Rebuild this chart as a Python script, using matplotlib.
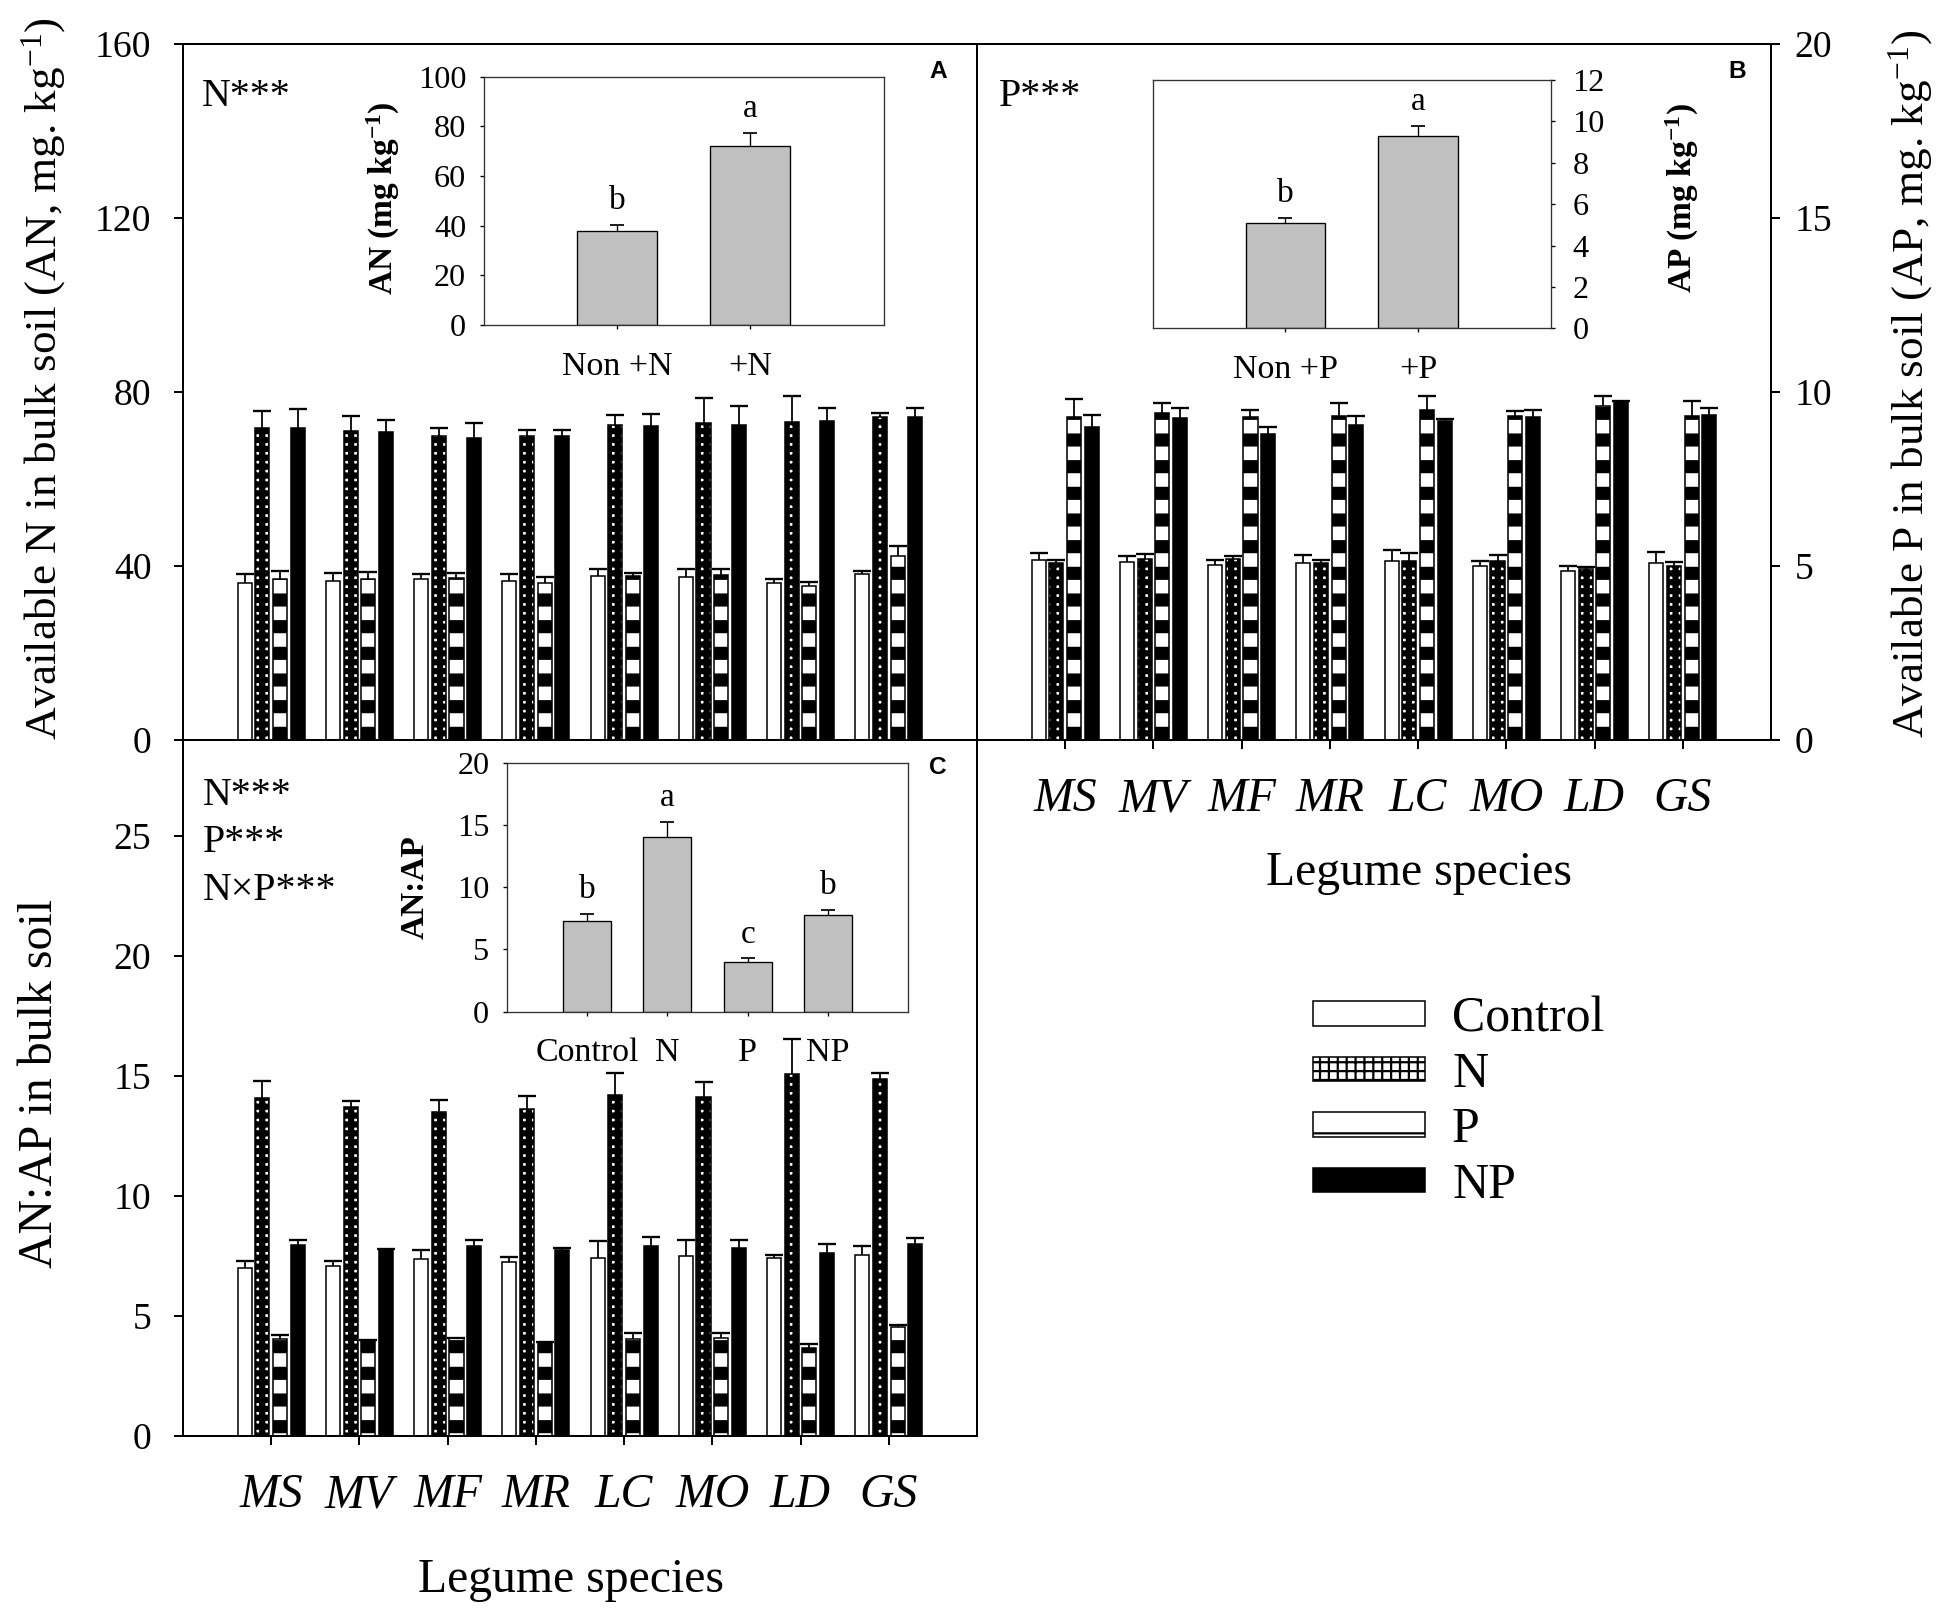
"""Legume species: available N, available P and AN:AP in bulk soil (panels A-C)"""
import matplotlib
matplotlib.use('Agg')
import matplotlib.pyplot as plt
import numpy as np

DPI = 160
W, H = 1940, 1610

plt.rcParams['font.family'] = ['Liberation Serif', 'DejaVu Serif']
plt.rcParams['mathtext.fontset'] = 'custom'
plt.rcParams['mathtext.rm'] = 'Liberation Serif'
plt.rcParams['mathtext.it'] = 'Liberation Serif:italic'
plt.rcParams['mathtext.bf'] = 'Liberation Serif:bold'

# ── data ────────────────────────────────────────────────────────────────────
species = ['MS', 'MV', 'MF', 'MR', 'LC', 'MO', 'LD', 'GS']
treatments = ['Control', 'N', 'P', 'NP']

# rows: Control, N, P, NP
an_mean = [[36.1, 36.5, 37.1, 36.6, 37.6, 37.4, 36.1, 38.1],
           [71.7, 71.1, 69.8, 69.8, 72.4, 72.8, 73.2, 74.2],
           [37.1, 36.9, 37.3, 36.1, 37.7, 37.9, 35.4, 42.4],
           [71.7, 70.9, 69.4, 69.8, 72.2, 72.4, 73.4, 74.3]]
an_se = [[2.1, 2.0, 1.1, 1.6, 1.6, 1.8, 1.0, 0.8],
         [4.0, 3.4, 1.9, 1.5, 2.4, 5.9, 5.8, 1.0],
         [1.8, 1.8, 1.2, 1.4, 0.8, 1.3, 0.9, 2.1],
         [4.3, 2.6, 3.5, 1.5, 2.8, 4.4, 3.0, 2.1]]

ap_mean = [[5.16, 5.11, 5.04, 5.08, 5.15, 4.99, 4.87, 5.09],
           [5.10, 5.19, 5.19, 5.10, 5.13, 5.13, 4.90, 5.00],
           [9.28, 9.41, 9.29, 9.32, 9.47, 9.32, 9.60, 9.30],
           [8.99, 9.26, 8.78, 9.06, 9.17, 9.28, 9.73, 9.33]]
ap_se = [[0.20, 0.17, 0.12, 0.25, 0.30, 0.16, 0.13, 0.31],
         [0.07, 0.15, 0.09, 0.06, 0.24, 0.19, 0.07, 0.12],
         [0.53, 0.28, 0.20, 0.37, 0.41, 0.13, 0.28, 0.43],
         [0.35, 0.29, 0.20, 0.25, 0.04, 0.21, 0.02, 0.22]]

ratio_mean = [[6.99, 7.09, 7.38, 7.24, 7.41, 7.51, 7.41, 7.53],
              [14.07, 13.70, 13.50, 13.64, 14.19, 14.14, 15.07, 14.86],
              [4.03, 3.97, 4.07, 3.90, 4.03, 4.07, 3.68, 4.55],
              [7.97, 7.73, 7.92, 7.73, 7.92, 7.83, 7.62, 8.01]]
ratio_se = [[0.31, 0.21, 0.39, 0.20, 0.70, 0.64, 0.12, 0.39],
            [0.73, 0.24, 0.52, 0.54, 0.95, 0.62, 1.46, 0.25],
            [0.18, 0.02, 0.02, 0.03, 0.25, 0.23, 0.14, 0.07],
            [0.18, 0.06, 0.23, 0.11, 0.38, 0.32, 0.37, 0.26]]

# insets
n_groups = ['Non +N', '+N']
n_mean = [37.7, 72.2]
n_se = [2.6, 5.1]
n_letters = ['b', 'a']

p_groups = ['Non +P', '+P']
p_mean = [5.08, 9.27]
p_se = [0.26, 0.53]
p_letters = ['b', 'a']

r_groups = ['Control', 'N', 'P', 'NP']
r_mean = [7.28, 14.0, 3.96, 7.74]
r_se = [0.59, 1.26, 0.32, 0.40]
r_letters = ['b', 'a', 'c', 'b']

# ── styles ──────────────────────────────────────────────────────────────────
OFFSETS = [-0.3, -0.1, 0.1, 0.3]
BAR_W = 0.16
STYLES = [dict(fc='white', hatch=None, hlw=1.0),
          dict(fc='white', hatch='+++', hlw=2.8),
          dict(fc='white', hatch='-', hlw=5.9),
          dict(fc='black', hatch=None, hlw=1.0)]
GREY = '#c0c0c0'


def frac(x0, y0, x1, y1):
    return [x0 / W, 1 - y1 / H, (x1 - x0) / W, (y1 - y0) / H]


def err_up(ax, x, y, e, cap, lw):
    y = np.asarray(y, float)
    e = np.asarray(e, float)
    _, caps, _ = ax.errorbar(x, y, yerr=[np.zeros_like(e), e], fmt='none',
                             ecolor='black', elinewidth=lw, capsize=cap,
                             capthick=lw * 1.3, zorder=3)
    for c in caps:
        if np.allclose(c.get_ydata(), y):
            c.set_visible(False)


def grouped(ax, means, ses):
    x = np.arange(len(species))
    conts = []
    for i, (m, s) in enumerate(zip(means, ses)):
        st = STYLES[i]
        xi = x + OFFSETS[i]
        bc = ax.bar(xi, m, BAR_W, color=st['fc'], edgecolor='black',
                    linewidth=0.7, hatch=st['hatch'], label=treatments[i])
        for p in bc:
            if hasattr(p, 'set_hatch_linewidth'):
                p.set_hatch_linewidth(st['hlw'])
        err_up(ax, xi, m, s, cap=3.9, lw=0.8)
        conts.append(bc)
    ax.set_xlim(-1, len(species))
    for sp in ax.spines.values():
        sp.set_linewidth(0.9)
    ax.tick_params(direction='out', length=4.2, width=0.9, labelsize=17, pad=10)
    return conts


def inset(rect, labels, means, ses, letters, ylim, yticks, ylabel, right=False):
    ax = fig.add_axes(frac(*rect))
    x = np.arange(len(labels))
    ax.bar(x, means, 0.6, color=GREY, edgecolor='black', linewidth=0.6)
    err_up(ax, x, means, ses, cap=3.1, lw=0.6)
    for xi, m, s, l in zip(x, means, ses, letters):
        ax.annotate(l, (xi, m + s), xytext=(0, 4), textcoords='offset points',
                    ha='center', va='bottom', fontsize=15)
    ax.set_xlim(-1, len(labels))
    ax.set_ylim(*ylim)
    ax.set_yticks(yticks)
    ax.set_xticks(x, labels)
    for sp in ax.spines.values():
        sp.set_linewidth(0.6)
        sp.set_color('#333333')
    ax.tick_params(direction='out', length=1.8, width=0.6, labelsize=14.5, pad=6)
    ax.tick_params(axis='x', labelsize=15.3, pad=10)
    ax.set_ylabel(ylabel, fontsize=15, fontweight='bold', va='center')
    if right:
        ax.yaxis.tick_right()
        ax.yaxis.set_label_position('right')
    return ax


fig = plt.figure(figsize=(W / DPI, H / DPI), dpi=DPI, facecolor='white')

# ── Panel A: available N ────────────────────────────────────────────────────
ax_a = fig.add_axes(frac(183, 44, 977, 740))
grouped(ax_a, an_mean, an_se)
ax_a.set_ylim(0, 160)
ax_a.set_yticks([0, 40, 80, 120, 160])
ax_a.set_xticks([])
ax_a.set_ylabel('Available N in bulk soil (AN, mg. kg$^{-1}$)', fontsize=20.3, va='center')
ax_a.yaxis.set_label_coords(-0.176, 0.52)
ax_a.text(0.0236, 0.911, 'N***', transform=ax_a.transAxes, fontsize=18, va='baseline')
ax_a.text(0.951, 0.960, 'A', transform=ax_a.transAxes, family='Liberation Sans',
          fontweight='bold', fontsize=11, ha='center', va='center')

# ── Panel B: available P ────────────────────────────────────────────────────
ax_b = fig.add_axes(frac(977, 44, 1771, 740))
conts_b = grouped(ax_b, ap_mean, ap_se)
ax_b.set_ylim(0, 20)
ax_b.set_yticks([0, 5, 10, 15, 20])
ax_b.yaxis.tick_right()
ax_b.tick_params(axis='y', pad=6.3)
ax_b.yaxis.set_label_position('right')
ax_b.set_ylabel('Available P in bulk soil (AP, mg. kg$^{-1}$)', fontsize=20.3, va='center')
ax_b.yaxis.set_label_coords(1.176, 0.512)
ax_b.set_xticks(np.arange(len(species)), species, fontstyle='italic', fontsize=21.5)
ax_b.tick_params(axis='x', pad=12.6)
ax_b.set_xlabel('Legume species', fontsize=21.5, va='center')
ax_b.xaxis.set_label_coords(0.557, -0.191)
ax_b.text(0.028, 0.911, 'P***', transform=ax_b.transAxes, fontsize=18, va='baseline')
ax_b.text(0.958, 0.960, 'B', transform=ax_b.transAxes, family='Liberation Sans',
          fontweight='bold', fontsize=11, ha='center', va='center')

# ── Panel C: AN:AP ──────────────────────────────────────────────────────────
ax_c = fig.add_axes(frac(183, 740, 977, 1436))
grouped(ax_c, ratio_mean, ratio_se)
ax_c.set_ylim(0, 29)
ax_c.set_yticks([0, 5, 10, 15, 20, 25])
ax_c.set_ylabel('AN:AP in bulk soil', fontsize=21.5, va='center')
ax_c.yaxis.set_label_coords(-0.18, 0.506)
ax_c.set_xticks(np.arange(len(species)), species, fontstyle='italic', fontsize=21.5)
ax_c.tick_params(axis='x', pad=12.6)
ax_c.set_xlabel('Legume species', fontsize=21.5, va='center')
ax_c.xaxis.set_label_coords(0.489, -0.207)
for yy, s in [(0.907, 'N***'), (0.8395, 'P***'), (0.770, 'N×P***')]:
    ax_c.text(0.0248, yy, s, transform=ax_c.transAxes, fontsize=18, va='baseline')
ax_c.text(0.951, 0.961, 'C', transform=ax_c.transAxes, family='Liberation Sans',
          fontweight='bold', fontsize=11, ha='center', va='center')

# ── insets ──────────────────────────────────────────────────────────────────
ia = inset((483.5, 76.7, 883.7, 325), n_groups, n_mean, n_se, n_letters,
           (0, 100), range(0, 101, 20), r'AN (mg kg$^{\mathbf{-1}}$)')
ia.yaxis.set_label_coords(-0.251, 0.51)

ib = inset((1152.7, 80, 1550.7, 328.3), p_groups, p_mean, p_se, p_letters,
           (0, 12), range(0, 13, 2), r'AP (mg kg$^{\mathbf{-1}}$)', right=True)
ib.tick_params(axis='y', pad=8)
ib.yaxis.set_label_coords(1.285, 0.525)

ic = inset((506.7, 762.7, 908.3, 1011.7), r_groups, r_mean, r_se, r_letters,
           (0, 20), range(0, 21, 5), 'AN:AP')
ic.yaxis.set_label_coords(-0.227, 0.502)

# ── legend ──────────────────────────────────────────────────────────────────
fig.legend(handles=conts_b, labels=treatments, loc='upper left',
           bbox_to_anchor=(1313 / W, 1 - 996 / H), frameon=False, fontsize=22.5,
           handlelength=2.24, handleheight=0.38, handletextpad=0.54,
           labelspacing=0.18, borderpad=0, borderaxespad=0)

fig.savefig('out.png', dpi=DPI, facecolor='white')
plt.close(fig)
